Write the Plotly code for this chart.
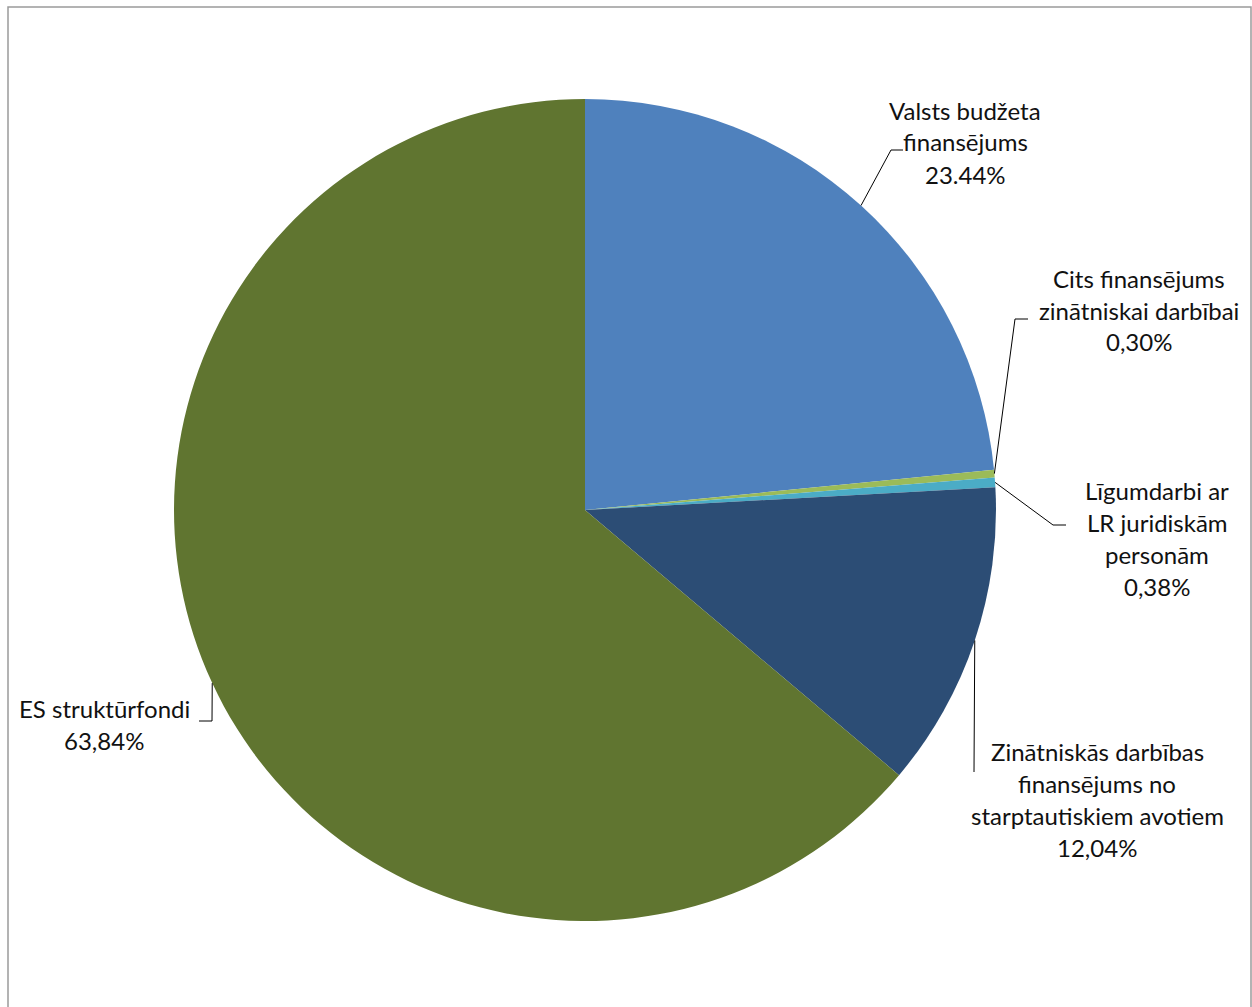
import math
import plotly.graph_objects as go

W, H = 1252, 1007

categories = [
    "Valsts budžeta finansējums",
    "Cits finansējums zinātniskai darbībai",
    "Līgumdarbi ar LR juridiskām personām",
    "Zinātniskās darbības finansējums no starptautiskiem avotiem",
    "ES struktūrfondi",
]
values = [23.44, 0.30, 0.38, 12.04, 63.84]
pct_text = ["23.44%", "0,30%", "0,38%", "12,04%", "63,84%"]
label_lines = [
    ["Valsts budžeta", "finansējums"],
    ["Cits finansējums", "zinātniskai darbībai"],
    ["Līgumdarbi ar", "LR juridiskām", "personām"],
    ["Zinātniskās darbības", "finansējums no", "starptautiskiem avotiem"],
    ["ES struktūrfondi"],
]
colors = ["#4F81BD", "#9BBB59", "#4BACC6", "#2C4D75", "#607530"]

# layout geometry (pixels)
CX, CY, R = 585, 510, 411
label_x = [965, 1139, 1157, 1097, 104]
label_y0 = [110, 278, 490, 751, 708]
line_gap = 32
# leader elbow points and end points
elbow = [(891, 150), (1015, 319), (1053, 525), (974, 772), (212, 721)]
ends = [(903, 150), (1028, 319), (1066, 525), (974, 772), (199, 721)]


def px(x, y):
    return x / W, 1 - y / H


fig = go.Figure()
fig.add_trace(go.Pie(
    labels=categories,
    values=values,
    sort=False,
    direction="clockwise",
    rotation=0,
    marker=dict(colors=colors, line=dict(width=0)),
    textinfo="none",
    hoverinfo="label+percent",
    showlegend=False,
    domain=dict(x=[(CX - R) / W, (CX + R) / W],
                y=[(H - CY - R) / H, (H - CY + R) / H]),
))

annotations = []
shapes = []
total = sum(values)
cum = 0.0
for i, v in enumerate(values):
    mid = (cum + v / 2) / total * 2 * math.pi
    cum += v
    sx = CX + R * math.sin(mid)
    sy = CY - R * math.cos(mid)
    pts = [(sx, sy), elbow[i], ends[i]]
    for (x0, y0), (x1, y1) in zip(pts[:-1], pts[1:]):
        a0 = px(x0, y0)
        a1 = px(x1, y1)
        shapes.append(dict(type="line", xref="paper", yref="paper",
                           x0=a0[0], y0=a0[1], x1=a1[0], y1=a1[1],
                           line=dict(color="black", width=1)))
    lines = label_lines[i] + [pct_text[i]]
    for j, t in enumerate(lines):
        ax, ay = px(label_x[i], label_y0[i] + j * line_gap)
        annotations.append(dict(text=t, x=ax, y=ay, xref="paper", yref="paper",
                                xanchor="center", yanchor="middle", showarrow=False,
                                font=dict(family="Lato", size=24, color="#111111")))

b0 = px(8, 7)
b1 = px(1251, 1012)
shapes.append(dict(type="rect", xref="paper", yref="paper",
                   x0=b0[0], y0=b0[1], x1=b1[0], y1=b1[1],
                   line=dict(color="#9a9a9a", width=1.5)))

fig.update_layout(
    width=W, height=H,
    margin=dict(l=0, r=0, t=0, b=0),
    paper_bgcolor="white",
    plot_bgcolor="white",
    annotations=annotations,
    shapes=shapes,
)

fig.write_html("out.html",
               config={"displayModeBar": False},
               post_script="document.body.style.margin='0';document.body.style.overflow='hidden';")
